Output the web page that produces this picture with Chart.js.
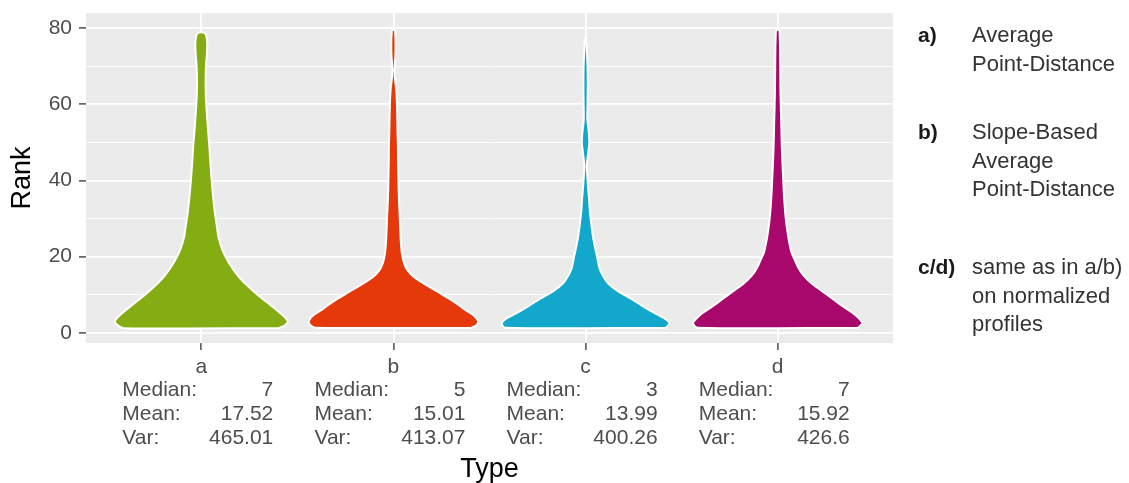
<!DOCTYPE html>
<html>
<head>
<meta charset="utf-8">
<script src="https://cdn.jsdelivr.net/npm/chart.js@4.4.1/dist/chart.umd.min.js"></script>
<style>
  html, body { margin: 0; padding: 0; background: #ffffff; }
  #wrap { width: 1129px; height: 483px; }
</style>
</head>
<body>
<div id="wrap"><canvas id="chart" width="1129" height="483"></canvas></div>
<script>
// Categories along the x axis
const categories = ['a', 'b', 'c', 'd'];

// Violin outlines: rank positions and relative density (1 = widest)
const rankA = [1.2, 2, 3, 4, 6, 8, 10, 12, 14, 16, 18, 20, 22, 25, 28, 31, 35, 40, 45, 49, 53, 57, 62, 66, 70, 73, 76, 78, 78.8];
const densA = [0.90, 0.97, 1.00, 0.97, 0.87, 0.76, 0.65, 0.55, 0.46, 0.39, 0.33, 0.28, 0.24, 0.20, 0.18, 0.16, 0.14, 0.12, 0.104, 0.093, 0.079, 0.066, 0.053, 0.050, 0.054, 0.064, 0.069, 0.058, 0.035];

const rankB = [1.3, 2, 3, 4.5, 6, 7.5, 9, 10.5, 12, 13.5, 15, 16.5, 18, 20, 22.5, 26, 31, 35, 40, 45, 49, 53, 57, 61, 64, 67, 69, 71, 73, 76, 78.5, 79.5];
const densB = [0.90, 0.96, 0.98, 0.93, 0.83, 0.74, 0.64, 0.53, 0.42, 0.31, 0.22, 0.16, 0.127, 0.104, 0.090, 0.081, 0.072, 0.064, 0.058, 0.054, 0.052, 0.047, 0.044, 0.039, 0.032, 0.017, 0.012, 0.017, 0.023, 0.025, 0.021, 0.014];

const rankC = [1.3, 2.5, 3.5, 5, 7, 9, 11, 13, 15, 17, 20, 23, 26, 29, 32, 35, 38, 41, 44, 47, 50, 53, 56, 60, 65, 70, 74, 77.5];
const densC = [0.93, 0.97, 0.93, 0.81, 0.66, 0.52, 0.37, 0.26, 0.20, 0.16, 0.133, 0.104, 0.081, 0.064, 0.049, 0.041, 0.030, 0.021, 0.014, 0.029, 0.043, 0.035, 0.021, 0.023, 0.025, 0.023, 0.015, 0.006];

const rankD = [1.3, 2.5, 3.5, 5, 7, 9, 11, 13, 15, 17, 19, 21, 23, 26, 30, 35, 40, 45, 50, 55, 60, 65, 70, 75, 78, 79.5];
const densD = [0.93, 0.98, 0.95, 0.88, 0.75, 0.63, 0.51, 0.39, 0.30, 0.24, 0.20, 0.16, 0.14, 0.116, 0.093, 0.075, 0.064, 0.054, 0.046, 0.041, 0.035, 0.031, 0.029, 0.027, 0.023, 0.017];

// Summary statistics printed under each category
const medians = ['7', '5', '3', '7'];
const means = ['17.52', '15.01', '13.99', '15.92'];
const variances = ['465.01', '413.07', '400.26', '426.6'];
const statNames = ['Median:', 'Mean:', 'Var:'];

// Y axis ticks (labels on every second one)
const yTicks = [0, 10, 20, 30, 40, 50, 60, 70, 80];

// Side note explaining the types
const noteKeys = ['a)', 'b)', 'c/d)'];
const noteLines = [
  ['Average', 'Point-Distance'],
  ['Slope-Based', 'Average', 'Point-Distance'],
  ['same as in a/b)', 'on normalized', 'profiles']
];

const fills = ['#84ad14', '#e5390b', '#13a8cb', '#a8076b'];
const HALF_WIDTH = 0.45;

function violinOutline(idx, ranks, dens) {
  const pts = [];
  for (let i = 0; i < ranks.length; i++) pts.push({ x: idx + dens[i] * HALF_WIDTH, y: ranks[i] });
  for (let i = ranks.length - 1; i >= 0; i--) pts.push({ x: idx - dens[i] * HALF_WIDTH, y: ranks[i] });
  pts.push({ x: pts[0].x, y: pts[0].y });
  return pts;
}

const shapes = [[rankA, densA], [rankB, densB], [rankC, densC], [rankD, densD]];
const datasets = shapes.map(([r, d], i) => ({
  label: categories[i],
  data: violinOutline(i, r, d),
  showLine: true,
  fill: 'shape',
  backgroundColor: fills[i],
  borderColor: '#ffffff',
  borderWidth: 2,
  pointRadius: 0,
  pointHoverRadius: 0,
  tension: 0.3
}));

const FONT = "'Liberation Sans', Arial, Helvetica, sans-serif";

const panelBackground = {
  id: 'panelBackground',
  beforeDraw(chart) {
    const { ctx, chartArea: a } = chart;
    ctx.save();
    ctx.fillStyle = '#ebebeb';
    ctx.fillRect(a.left, a.top, a.right - a.left, a.bottom - a.top);
    ctx.restore();
  }
};

const statsAndNotes = {
  id: 'statsAndNotes',
  afterDraw(chart) {
    const { ctx } = chart;
    const xs = chart.scales.x;
    const base = chart.chartArea.bottom;
    ctx.save();
    ctx.font = '21px ' + FONT;
    ctx.fillStyle = '#4d4d4d';
    ctx.textBaseline = 'middle';
    categories.forEach((c, i) => {
      const cx = xs.getPixelForValue(i);
      const vals = [medians[i], means[i], variances[i]];
      statNames.forEach((name, k) => {
        const y = base + 47 + k * 24;
        ctx.textAlign = 'left';
        ctx.fillText(name, cx - 79, y);
        ctx.textAlign = 'right';
        ctx.fillText(vals[k], cx + 72, y);
      });
    });

    const keyX = 918, textX = 972;
    const starts = [36, 133, 268];
    noteKeys.forEach((key, i) => {
      ctx.textAlign = 'left';
      ctx.font = 'bold 21px ' + FONT;
      ctx.fillStyle = '#1a1a1a';
      ctx.fillText(key, keyX, starts[i]);
      ctx.font = '22px ' + FONT;
      ctx.fillStyle = '#333333';
      noteLines[i].forEach((line, k) => ctx.fillText(line, textX, starts[i] + k * 28.5));
    });
    ctx.restore();
  }
};

new Chart(document.getElementById('chart'), {
  type: 'scatter',
  data: { datasets },
  options: {
    responsive: false,
    animation: false,
    devicePixelRatio: 1,
    layout: { padding: { left: 0, right: 236, top: 13, bottom: 0 } },
    plugins: { legend: { display: false }, tooltip: { enabled: false } },
    scales: {
      x: {
        type: 'linear',
        min: -0.6,
        max: 3.6,
        afterBuildTicks: s => { s.ticks = categories.map((_, i) => ({ value: i })); },
        afterFit: s => { s.height = 140; s.paddingLeft = 0; s.paddingRight = 0; },
        ticks: {
          callback: v => categories[v] ?? '',
          font: { family: FONT, size: 21 },
          color: '#4d4d4d',
          padding: 5,
          maxRotation: 0,
          autoSkip: false
        },
        grid: { color: '#ffffff', lineWidth: 1.8, tickColor: '#333333', tickLength: 7, tickWidth: 1.3 },
        border: { display: false },
        title: { display: true, text: 'Type', color: '#000000', font: { family: FONT, size: 27, lineHeight: 1 }, padding: { top: 0, bottom: 0 } }
      },
      y: {
        type: 'linear',
        min: -2.7,
        max: 84,
        afterBuildTicks: s => { s.ticks = yTicks.map(v => ({ value: v })); },
        afterFit: s => { s.width = 86; s.paddingTop = 0; s.paddingBottom = 0; },
        ticks: {
          callback: v => (v % 20 === 0 ? String(v) : ''),
          font: { family: FONT, size: 21 },
          color: '#4d4d4d',
          padding: 7
        },
        grid: {
          color: '#ffffff',
          lineWidth: c => (c.tick && c.tick.value % 20 === 0 ? 1.8 : 0.9),
          tickColor: c => (c.tick && c.tick.value % 20 === 0 ? '#333333' : 'rgba(0,0,0,0)'),
          tickLength: 7,
          tickWidth: 1.3
        },
        border: { display: false },
        title: { display: true, text: 'Rank', color: '#000000', font: { family: FONT, size: 27, lineHeight: 1 }, padding: { top: 9, bottom: 0 } }
      }
    }
  },
  plugins: [panelBackground, statsAndNotes]
});
</script>
</body>
</html>
